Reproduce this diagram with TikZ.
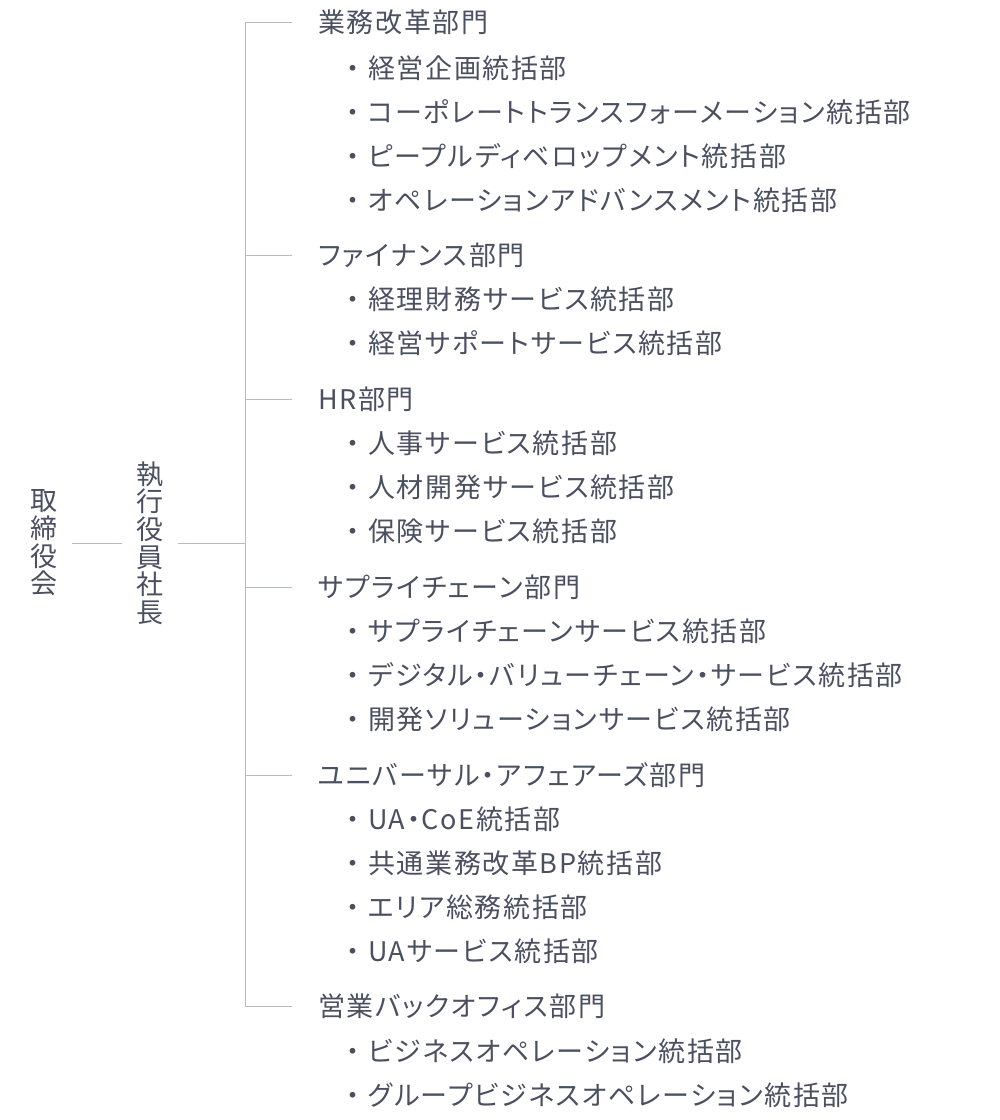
\documentclass[tikz,border=0pt]{standalone}
\usepackage{fontspec}
\setmainfont{Noto Sans CJK JP}[CharacterWidth=AlternateProportional,LetterSpace=6]
\usepackage{tikz}
\definecolor{txtgray}{HTML}{4A5060}
\definecolor{linegray}{HTML}{B5BAC6}
\newcommand{\bul}{\makebox[30pt][c]{・}}

\begin{document}
\begin{tikzpicture}[x=1pt,y=-1pt]
        \tikzset{every node/.style={inner sep=0pt,anchor=west,text=txtgray,font=\fontsize{27}{27.6}\selectfont},
                 conn/.style={draw=linegray,line width=1pt},
                 vtext/.style={anchor=center,align=center,inner sep=14pt}}
        \useasboundingbox (0,0) rectangle (1000,1120);
        % left side
        \node [vtext] (board) at (44,543) {取\\締\\役\\会};
        \node [vtext] (ceo) at (150,543) {執\\行\\役\\員\\社\\長};
        \coordinate (top) at (245,22);
        \coordinate (bot) at (245,1006);
        \coordinate (mid) at (245,543);
        \draw [conn] (board.east) -- (ceo.west);
        \draw [conn] (ceo.east) -- (mid);
        \draw [conn] (top) -- (bot);
        % divisions
        \node (d1) at (318,22) {業務改革部門};
        \node (d1a) at (338,68) {\bul 経営企画統括部};
        \node (d1b) at (338,112) {\bul コーポレートトランスフォーメーション統括部};
        \node (d1c) at (338,156) {\bul ピープルディベロップメント統括部};
        \node (d1d) at (338,200) {\bul オペレーションアドバンスメント統括部};
        \node (d2) at (318,255) {ファイナンス部門};
        \node (d2a) at (338,299) {\bul 経理財務サービス統括部};
        \node (d2b) at (338,343) {\bul 経営サポートサービス統括部};
        \node (d3) at (318,399) {HR部門};
        \node (d3a) at (338,443) {\bul 人事サービス統括部};
        \node (d3b) at (338,487) {\bul 人材開発サービス統括部};
        \node (d3c) at (338,531) {\bul 保険サービス統括部};
        \node (d4) at (318,587) {サプライチェーン部門};
        \node (d4a) at (338,631) {\bul サプライチェーンサービス統括部};
        \node (d4b) at (338,675) {\bul デジタル・バリューチェーン・サービス統括部};
        \node (d4c) at (338,719) {\bul 開発ソリューションサービス統括部};
        \node (d5) at (318,775) {ユニバーサル・アフェアーズ部門};
        \node (d5a) at (338,819) {\bul UA・CoE統括部};
        \node (d5b) at (338,863) {\bul 共通業務改革BP統括部};
        \node (d5c) at (338,907) {\bul エリア総務統括部};
        \node (d5d) at (338,951) {\bul UAサービス統括部};
        \node (d6) at (318,1006) {営業バックオフィス部門};
        \node (d6a) at (338,1051) {\bul ビジネスオペレーション統括部};
        \node (d6b) at (338,1095) {\bul グループビジネスオペレーション統括部};
        % branches
        \draw [conn] (top) -- ([xshift=-26pt]d1.west);
        \draw [conn] (top|-d2) -- ([xshift=-26pt]d2.west);
        \draw [conn] (top|-d3) -- ([xshift=-26pt]d3.west);
        \draw [conn] (top|-d4) -- ([xshift=-26pt]d4.west);
        \draw [conn] (top|-d5) -- ([xshift=-26pt]d5.west);
        \draw [conn] (bot) -- ([xshift=-26pt]d6.west);
\end{tikzpicture}
\end{document}
